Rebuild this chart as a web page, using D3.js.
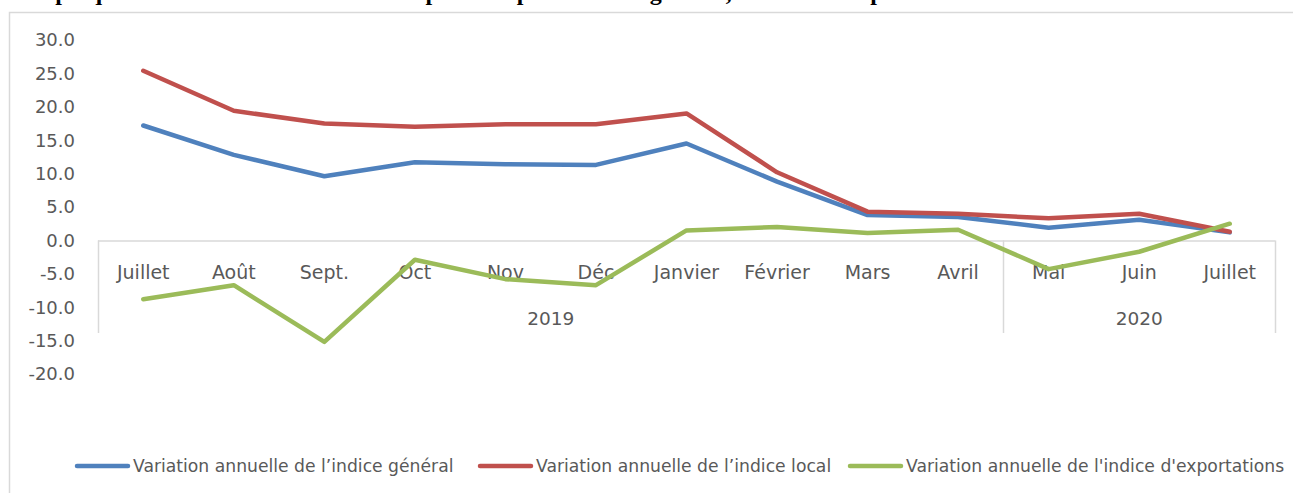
<!DOCTYPE html>
<meta charset="utf-8">
<style>
html, body {
  margin: 0;
  padding: 0;
  background: #fff;
}
svg {
  display: block;
}
.tick-label, .cat-label, .year-label, .legend text {
  font-family: "DejaVu Sans", sans-serif;
  fill: #595959;
}
</style>
<svg width="1293" height="493"></svg>
<script src="https://cdn.jsdelivr.net/npm/d3@7"></script>
<script>
// values
const months = ['Juillet', 'Août', 'Sept.', 'Oct', 'Nov', 'Déc', 'Janvier', 'Février', 'Mars', 'Avril', 'Mai', 'Juin', 'Juillet'];
const years = ['2019', '2019', '2019', '2019', '2019', '2019', '2019', '2019', '2019', '2019', '2020', '2020', '2020'];
const general = [17.2, 12.8, 9.6, 11.7, 11.4, 11.3, 14.5, 8.8, 3.8, 3.5, 1.9, 3.1, 1.2];
const local = [25.4, 19.4, 17.5, 17.0, 17.4, 17.4, 19.0, 10.2, 4.3, 4.0, 3.3, 4.0, 1.3];
const exportations = [-8.8, -6.7, -15.2, -2.9, -5.8, -6.7, 1.5, 2.0, 1.1, 1.6, -4.3, -1.7, 2.5];
const seriesNames = [
  'Variation annuelle de l’indice général',
  'Variation annuelle de l’indice local',
  'Variation annuelle de l\'indice d\'exportations'
];
const seriesColors = ['#4f81bd', '#c0504d', '#9bbb59'];
const yTicks = [30, 25, 20, 15, 10, 5, 0, -5, -10, -15, -20];
const title = 'Graphique 4 : Évolution des indices des prix à la production : général, local et à l\'exportation';

const svg = d3.select('svg'),
  width = +svg.attr('width'),
  height = +svg.attr('height');

// title of the document above the chart, cut by the top edge as in the source
svg.append('text')
  .attr('x', 14)
  .attr('y', 0)
  .attr('font-family', '"Liberation Serif", serif')
  .attr('font-weight', 'bold')
  .attr('font-size', 24)
  .attr('fill', '#000')
  .text(title);

// chart area border
svg.append('rect')
  .attr('x', 9.5)
  .attr('y', 12.5)
  .attr('width', width + 10)
  .attr('height', height + 10)
  .attr('fill', '#fff')
  .attr('stroke', '#d9d9d9')
  .attr('stroke-width', 1.5);

const x = d3.scaleBand()
  .domain(d3.range(months.length))
  .range([98, 1275]);

const y = d3.scaleLinear()
  .domain([-20, 30])
  .range([374, 40]);

// y tick labels (no axis line)
svg.append('g')
  .selectAll('text')
  .data(yTicks)
  .join('text')
  .attr('class', 'tick-label')
  .attr('x', 75)
  .attr('y', d => y(d))
  .attr('dy', '0.35em')
  .attr('text-anchor', 'end')
  .attr('font-size', 18)
  .text(d => d3.format('.1f')(d).replace('−', '-'));

// horizontal axis at zero
svg.append('line')
  .attr('x1', x.range()[0])
  .attr('x2', x.range()[1])
  .attr('y1', y(0) + 0.5)
  .attr('y2', y(0) + 0.5)
  .attr('stroke', '#d9d9d9')
  .attr('stroke-width', 1.5);

// group separators for the two-level category axis
const groups = d3.groups(d3.range(years.length), i => years[i]);
const bounds = [x.range()[0]];
groups.forEach(g => bounds.push(x(g[1][g[1].length - 1]) + x.bandwidth()));
svg.append('g')
  .selectAll('line')
  .data(bounds)
  .join('line')
  .attr('x1', d => Math.round(d) + 0.5)
  .attr('x2', d => Math.round(d) + 0.5)
  .attr('y1', y(0))
  .attr('y2', 333)
  .attr('stroke', '#d9d9d9')
  .attr('stroke-width', 1.5);

svg.append('g')
  .selectAll('text')
  .data(groups)
  .join('text')
  .attr('class', 'year-label')
  .attr('x', d => (x(d[1][0]) + x(d[1][d[1].length - 1]) + x.bandwidth()) / 2)
  .attr('y', 319)
  .attr('dy', '0.35em')
  .attr('text-anchor', 'middle')
  .attr('font-size', 18.5)
  .text(d => d[0]);

svg.append('g')
  .selectAll('text')
  .data(months)
  .join('text')
  .attr('class', 'cat-label')
  .attr('x', (d, i) => x(i) + x.bandwidth() / 2)
  .attr('y', 272)
  .attr('dy', '0.35em')
  .attr('text-anchor', 'middle')
  .attr('font-size', 19)
  .text(d => d);

// series lines
const line = d3.line()
  .x((d, i) => x(i) + x.bandwidth() / 2)
  .y(d => y(d));

svg.append('g')
  .selectAll('path')
  .data([general, local, exportations])
  .join('path')
  .attr('fill', 'none')
  .attr('stroke', (d, i) => seriesColors[i])
  .attr('stroke-width', 4.5)
  .attr('stroke-linejoin', 'round')
  .attr('stroke-linecap', 'round')
  .attr('d', line);

// legend
const legendX = [75, 478, 848];
const legend = svg.append('g').attr('class', 'legend')
  .selectAll('g')
  .data(seriesNames)
  .join('g')
  .attr('transform', (d, i) => `translate(${legendX[i]},466)`);

legend.append('line')
  .attr('x1', 2)
  .attr('x2', 53)
  .attr('stroke', (d, i) => seriesColors[i])
  .attr('stroke-width', 4.5)
  .attr('stroke-linecap', 'round');

legend.append('text')
  .attr('x', 58)
  .attr('dy', '0.35em')
  .attr('font-size', 17.2)
  .text(d => d);
</script>
